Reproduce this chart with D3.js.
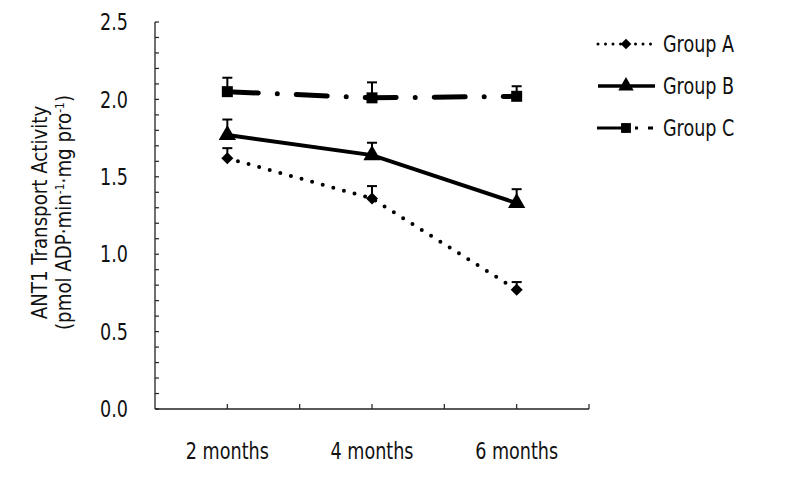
<!DOCTYPE html>
<html>
<head>
<meta charset="utf-8">
<script src="https://cdn.jsdelivr.net/npm/d3@7"></script>
<style>
  body { margin: 0; background: #fff; }
  text { font-family: "DejaVu Sans Condensed", "Liberation Sans Narrow", sans-serif; fill: #111; }
</style>
</head>
<body>
<div id="chart"></div>
<script>
// data
const categories = ["2 months", "4 months", "6 months"];
const groupA = [1.62, 1.36, 0.77];
const groupB = [1.77, 1.64, 1.33];
const groupC = [2.05, 2.01, 2.02];
const errA = [0.065, 0.08, 0.05];
const errB = [0.10, 0.08, 0.09];
const errC = [0.09, 0.10, 0.065];
const yTicks = [0, 0.5, 1.0, 1.5, 2.0, 2.5];

const series = [
  { name: "Group A", values: groupA, err: errA, symbol: d3.symbolSquare, rot: 45, size: 72, width: 4, dash: "0 11", cap: "round" },
  { name: "Group B", values: groupB, err: errB, symbol: d3.symbolTriangle, rot: 0, size: 130, width: 4, dash: null, cap: "butt" },
  { name: "Group C", values: groupC, err: errC, symbol: d3.symbolSquare, rot: 0, size: 121, width: 5, dash: "31 19 0 19", cap: "round" }
];

const W = 785, H = 480;
const margin = { top: 22, right: 196, bottom: 71, left: 155 };
const width = W - margin.left - margin.right,
  height = H - margin.top - margin.bottom;
const SX = 0.85; // squeeze text horizontally, the original uses a condensed face

const svg = d3.select("#chart")
  .append("svg")
  .attr("width", W)
  .attr("height", H)
  .append("g")
  .attr("transform", `translate(${margin.left},${margin.top})`);

// text helper: positioned group + horizontally squeezed text
function label(parent, px, py, sx) {
  return parent.append("g")
    .attr("transform", `translate(${px},${py})`)
    .append("text")
    .attr("transform", `scale(${sx},1)`);
}

const x = d3.scaleBand()
  .domain(categories)
  .range([0, width]);

const y = d3.scaleLinear()
  .domain([0, 2.5])
  .range([height, 0]);

// Y axis with minor inner ticks every 0.1
const yAxis = svg.append("g");
yAxis.append("line")
  .attr("x1", 0).attr("x2", 0)
  .attr("y1", y(0)).attr("y2", y(2.5))
  .attr("stroke", "#222").attr("stroke-width", 1.3);
yAxis.selectAll("line.minor")
  .data(d3.range(0, 26).map(d => d / 10))
  .join("line")
  .attr("class", "minor")
  .attr("x1", 0).attr("x2", 4)
  .attr("y1", d => y(d)).attr("y2", d => y(d))
  .attr("stroke", "#222").attr("stroke-width", 1.2);
yTicks.forEach(d => {
  label(yAxis, -27, y(d), SX)
    .attr("dy", "0.36em")
    .attr("text-anchor", "end")
    .style("font-size", "23px")
    .text(d3.format(".1f")(d));
});

// X axis with ticks at band centers and edges
const xAxis = svg.append("g").attr("transform", `translate(0,${height})`);
xAxis.append("line")
  .attr("x1", 0).attr("x2", width)
  .attr("stroke", "#222").attr("stroke-width", 1.3);
const xTickPos = [];
categories.forEach(c => { xTickPos.push(x(c)); xTickPos.push(x(c) + x.bandwidth() / 2); });
xTickPos.push(width);
xAxis.selectAll("line.tick")
  .data(xTickPos.slice(1))
  .join("line")
  .attr("class", "tick")
  .attr("x1", d => d).attr("x2", d => d)
  .attr("y1", 0).attr("y2", -5)
  .attr("stroke", "#222").attr("stroke-width", 1.2);
categories.forEach(c => {
  label(xAxis, x(c) + x.bandwidth() / 2, 50, SX)
    .attr("text-anchor", "middle")
    .style("font-size", "23px")
    .text(c);
});

// Y axis title
const title = svg.append("text")
  .attr("transform", `translate(-108,${height / 2 - 3}) rotate(-90) scale(0.92,1)`)
  .attr("text-anchor", "middle")
  .style("font-size", "22px");
title.append("tspan").attr("x", 0).attr("dy", 0).text("ANT1 Transport Activity");
const t2 = title.append("tspan").attr("x", 0).attr("dy", "1.1em");
t2.append("tspan").text("(pmol ADP·min");
t2.append("tspan").attr("baseline-shift", "super").style("font-size", "13px").text("-1");
t2.append("tspan").text("·mg pro");
t2.append("tspan").attr("baseline-shift", "super").style("font-size", "13px").text("-1");
t2.append("tspan").text(")");

const cx = c => x(c) + x.bandwidth() / 2;
const line = d3.line().x((d, i) => cx(categories[i])).y(d => y(d));

series.forEach(s => {
  const g = svg.append("g");
  g.append("path")
    .datum(s.values)
    .attr("d", line)
    .attr("fill", "none")
    .attr("stroke", "#000")
    .attr("stroke-width", s.width)
    .attr("stroke-linecap", s.cap)
    .attr("stroke-dasharray", s.dash);
  // upper error bars
  const eb = g.selectAll("g.err")
    .data(s.values)
    .join("g").attr("class", "err");
  eb.append("line")
    .attr("x1", (d, i) => cx(categories[i])).attr("x2", (d, i) => cx(categories[i]))
    .attr("y1", d => y(d)).attr("y2", (d, i) => y(d + s.err[i]))
    .attr("stroke", "#000").attr("stroke-width", 2);
  eb.append("line")
    .attr("x1", (d, i) => cx(categories[i]) - 5).attr("x2", (d, i) => cx(categories[i]) + 5)
    .attr("y1", (d, i) => y(d + s.err[i])).attr("y2", (d, i) => y(d + s.err[i]))
    .attr("stroke", "#000").attr("stroke-width", 2);
  g.selectAll("path.mark")
    .data(s.values)
    .join("path")
    .attr("class", "mark")
    .attr("transform", (d, i) => `translate(${cx(categories[i])},${y(d)}) rotate(${s.rot})`)
    .attr("d", d3.symbol().type(s.symbol).size(s.size))
    .attr("fill", "#000");
});

// Legend
const legend = svg.append("g").attr("transform", `translate(${597 - margin.left},${44 - margin.top})`);
series.forEach((s, i) => {
  const row = legend.append("g").attr("transform", `translate(0,${i * 42})`);
  if (i === 2) {
    row.append("line").attr("x1", 0).attr("x2", 28).attr("stroke", "#000").attr("stroke-width", 3);
    row.append("line").attr("x1", 38).attr("x2", 56).attr("stroke", "#000").attr("stroke-width", 3)
      .attr("stroke-dasharray", "3 10 5 10");
  } else {
    row.append("line")
      .attr("x1", 1).attr("x2", 58)
      .attr("stroke", "#000")
      .attr("stroke-width", i === 0 ? 3 : 3.5)
      .attr("stroke-linecap", s.cap)
      .attr("stroke-dasharray", i === 0 ? "0 7.5" : null);
  }
  row.append("path")
    .attr("transform", `translate(29,0) rotate(${s.rot})`)
    .attr("d", d3.symbol().type(s.symbol).size(s.size * 0.8))
    .attr("fill", "#000");
  label(row, 66, 0, SX)
    .attr("dy", "0.36em")
    .style("font-size", "23px")
    .text(s.name);
});
</script>
</body>
</html>
